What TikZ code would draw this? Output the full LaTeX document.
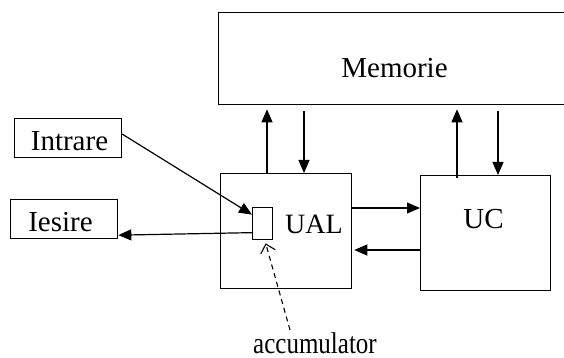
\documentclass[tikz,border=0pt]{standalone}
\usepackage{fontspec}
\setmainfont{Liberation Serif}
\usetikzlibrary{arrows.meta,calc}
\tikzset{
  blk/.style={draw, line width=1.3pt, rectangle, inner sep=0pt, anchor=north west},
  lbl/.style={inner sep=0pt, anchor=base, font=\fontsize{29}{29}\selectfont},
  arr/.style={line width=1.2pt, -{Triangle[length=13pt,width=11pt]}},
  darr/.style={line width=1.1pt, dash pattern=on 5pt off 4pt, -{Straight Barb[length=8pt,width=15pt]}},
}
\begin{document}
\begin{tikzpicture}[x=1pt,y=-1pt]
\useasboundingbox (0,0) rectangle (564,358);
\clip (0,0) rectangle (564,358);

% blocks
\node[blk, minimum width=352pt, minimum height=92pt] (mem) at (218,12) {};
\node[blk, minimum width=131pt, minimum height=115pt] (ual) at (220,173) {};
\node[blk, minimum width=130pt, minimum height=115pt] (uc) at (420,175) {};
\node[blk, minimum width=20pt, minimum height=32pt] (acc) at (252,207) {};
\node[blk, minimum width=107pt, minimum height=39pt] (in) at (14,118) {};
\node[blk, minimum width=107pt, minimum height=39pt] (out) at (10,199) {};

% texts
\node[lbl] (tmem) at (394.5,78) {Memorie};
\node[lbl] (tin) at (69.5,151) {Intrare};
\node[lbl] (tout) at (60.5,231) {Iesire};
\node[lbl, font=\fontsize{28}{28}\selectfont] (tual) at (314,233) {UAL};
\node[lbl] (tuc) at (483.5,228) {UC};
\node[inner sep=0pt, anchor=base] (tacc) at (315,353)
  {\scalebox{1}[1.2]{\fontsize{25}{25}\selectfont accumulator}};

% links between UAL, UC and Memorie
\draw[arr, shorten >=4pt] ($(ual.north west)+(47,0)$) -- ($(ual.north west |- mem.south)+(47,0)$);
\draw[arr, shorten <=6pt] ($(ual.north west |- mem.south)+(84,0)$) -- ($(ual.north west)+(84,0)$);
\draw[arr, shorten >=4pt, shorten <=-3pt] ($(uc.north west)+(37,0)$) -- ($(uc.north west |- mem.south)+(37,0)$);
\draw[arr, shorten <=6pt] ($(uc.north west |- mem.south)+(78,0)$) -- ($(uc.north west)+(78,0)$);
\draw[arr] ($(ual.north east)+(0,35)$) -- ($(ual.north east -| uc.west)+(0,35)$);
\draw[arr, shorten >=2pt] ($(ual.north east -| uc.west)+(0,77)$) -- ($(ual.north east)+(0,77)$);

% input / output through the accumulator
\draw[arr] ($(in.east)+(0,-4)$) -- ($(acc.west)+(0,-9)$);
\draw[arr] ($(acc.west)+(0,9)$) -- ($(out.east)+(0,16)$);
\draw[darr] ($(tacc.north)+(-25,-2)$) -- ($(acc.south)+(3,3)$);
\end{tikzpicture}
\end{document}
